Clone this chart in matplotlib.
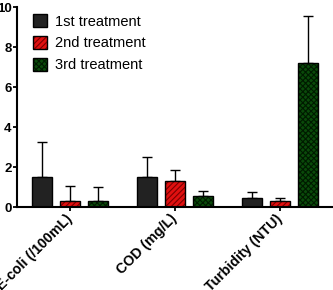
import numpy as np
import matplotlib.pyplot as plt

plt.rcParams['font.family'] = ['Liberation Sans', 'DejaVu Sans']

categories = ['E-coli (/100mL)', 'COD (mg/L)', 'Turbidity (NTU)']
series = ['1st treatment', '2nd treatment', '3rd treatment']
means = [
    [1.5, 1.5, 0.45],
    [0.3, 1.3, 0.3],
    [0.3, 0.55, 7.2],
]
errs = [
    [1.75, 1.0, 0.3],
    [0.75, 0.55, 0.15],
    [0.7, 0.25, 2.35],
]
colors = ['#222222', '#e01010', '#0a4a0a']
hatches = [None, '//////', 'xxxxxx']
hatch_cols = ['#222222', '#7a0000', '#001a00']

fig = plt.figure(figsize=(3.33, 2.9), dpi=100)
ax = fig.add_axes([17 / 333, 1 - 207 / 290, 1 - 17 / 333, 200 / 290])

x = np.arange(len(categories))
width = 0.19
offsets = [-0.267, 0, 0.267]
plt.rcParams['hatch.linewidth'] = 0.8
for i in range(3):
    bars = ax.bar(x + offsets[i], means[i], width, color=colors[i],
                  edgecolor='black', linewidth=1.0, hatch=hatches[i],
                  label=series[i], zorder=2)
    for b in bars:
        b._hatch_color = plt.matplotlib.colors.to_rgba(hatch_cols[i])
    ax.errorbar(x + offsets[i], means[i],
                yerr=[np.zeros(3), errs[i]], fmt='none', ecolor='black',
                elinewidth=1.0, capsize=3.6, capthick=1.0, zorder=1)

ax.set_xlim(-0.505, 2.505)
ax.set_ylim(0, 10)
ax.set_yticks([0, 2, 4, 6, 8, 10])
ax.set_xticks(x)
ax.set_xticklabels(categories, rotation=45, ha='right', va='center',
                   rotation_mode='anchor', fontweight='bold', fontsize=10.2)
for lbl in ax.get_yticklabels():
    lbl.set_fontweight('bold')
    lbl.set_fontsize(9.5)
ax.tick_params(axis='x', direction='out', length=3, width=1.3, pad=4)
ax.tick_params(axis='y', direction='out', length=3, width=1.3, pad=1)
ax.spines['top'].set_visible(False)
ax.spines['right'].set_visible(False)
ax.spines['left'].set_linewidth(1.5)
ax.spines['bottom'].set_linewidth(1.5)

ax.legend(loc='upper left', frameon=False, fontsize=10.5,
          bbox_to_anchor=(0.01, 1.03), handlelength=0.95, handleheight=1.0,
          handletextpad=0.55, labelspacing=0.5)

fig.savefig('out.png', dpi=100)
